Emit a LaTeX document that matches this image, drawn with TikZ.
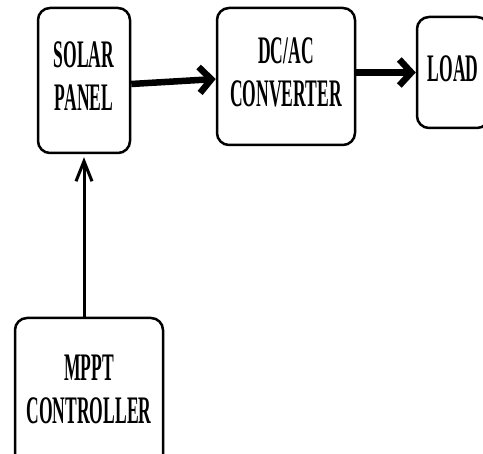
\documentclass[tikz,border=0pt]{standalone}
\usepackage{fontspec}
\setmainfont{Liberation Serif}
\usetikzlibrary{arrows.meta,calc}
\newcommand{\condtext}[1]{\scalebox{0.45}[1]{\begin{tabular}{@{}c@{}}#1\end{tabular}}}
\begin{document}
\begin{tikzpicture}[x=1pt,y=-1pt,
  blockbox/.style={draw=black, line width=2.5pt, rounded corners=12pt, fill=white,
    align=center, inner sep=0pt, font=\bfseries\fontsize{39}{43}\selectfont},
  thickarrow/.style={line width=6.5pt, -{Straight Barb[length=12pt,width=26pt]}},
  thinarrow/.style={line width=3pt, -{Straight Barb[length=20pt,width=16pt]}}]
\useasboundingbox (0,0) rectangle (483,454);
\begin{scope}
\clip (0,0) rectangle (483,454);
\node[blockbox, minimum width=92pt, minimum height=145pt] (solar) at (84,80.5) {\condtext{SOLAR\\PANEL}};
\node[blockbox, minimum width=138pt, minimum height=137pt] (dcac) at (286,76.5) {\condtext{DC/AC\\CONVERTER}};
\node[blockbox, minimum width=72pt, minimum height=111pt] (load) at (453,72.5) {\condtext{LOAD}};
\node[blockbox, minimum width=148pt, minimum height=150pt] (mppt) at (89,393) {\condtext{MPPT\\CONTROLLER}};
\draw[thickarrow] ($(solar.east)+(0,3.5)$) -- ($(dcac.west)+(0,2.5)$);
\draw[thickarrow] (dcac.east |- load.west) -- (load.west);
\draw[thinarrow, shorten >=3pt] (solar.south |- mppt.north) -- (solar.south);
\end{scope}
\end{tikzpicture}
\end{document}
